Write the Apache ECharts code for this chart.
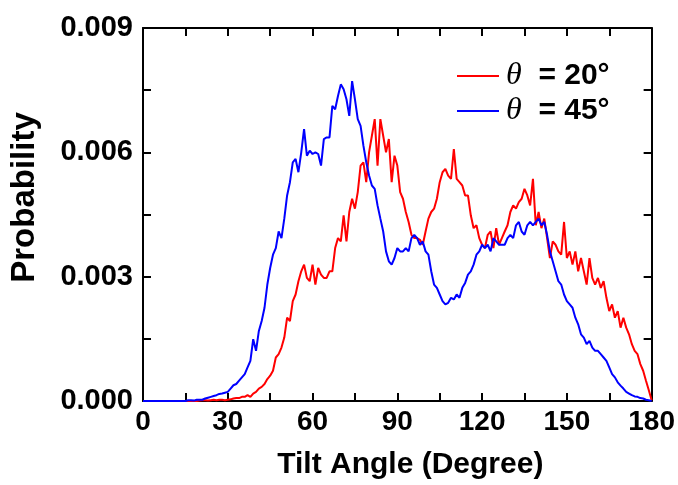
<!DOCTYPE html>
<html>
<head>
<meta charset="utf-8">
<title>Tilt angle distribution</title>
<script src="https://cdn.jsdelivr.net/npm/echarts@6/dist/echarts.min.js"></script>
<style>
  html, body { margin: 0; padding: 0; background: #fff; }
  #chart { width: 678px; height: 485px; }
</style>
</head>
<body>
<div id="chart"></div>
<script>
// tilt angle sampled every degree, 0..180
const angleStep = 1;
const xTicks = [0, 30, 60, 90, 120, 150, 180];
const yTicks = [0.000, 0.003, 0.006, 0.009];

// theta = 20 deg (red)
const prob20 = [
  0, 0, 0, 0, 0, 0, 0, 0, 0, 0,
  0, 0, 0, 0, 0, 0, 0, 0, 0, 0,
  0.00001, 0.00002, 0.00002, 0.00001, 0.00002, 0.00003, 0.00002, 0.00003, 0.00003, 0.00002,
  0.00003, 0.00004, 0.00006, 0.00007, 0.00007, 0.0001, 0.0001, 0.00014, 0.0001, 0.00018,
  0.00022, 0.0003, 0.00034, 0.00041, 0.00053, 0.00061, 0.00073, 0.00105, 0.00113, 0.00129,
  0.00153, 0.00201, 0.00193, 0.00241, 0.00257, 0.00289, 0.00313, 0.00329, 0.00297, 0.00289,
  0.00329, 0.00281, 0.00321, 0.00305, 0.00297, 0.00297, 0.00313, 0.00313, 0.00369, 0.00393,
  0.00385, 0.00448, 0.00385, 0.00456, 0.00488, 0.00464, 0.00504, 0.00568, 0.00576, 0.00528,
  0.006, 0.0064, 0.0068, 0.00568, 0.0068, 0.0064, 0.006, 0.00632, 0.00528, 0.00592,
  0.00568, 0.00504, 0.00488, 0.00456, 0.00432, 0.00401, 0.00393, 0.00393, 0.00389, 0.00377,
  0.00409, 0.0044, 0.00456, 0.00464, 0.00488, 0.00528, 0.00552, 0.0056, 0.00544, 0.00536,
  0.00608, 0.00536, 0.00528, 0.0052, 0.00496, 0.00496, 0.00448, 0.00417, 0.00424, 0.00393,
  0.00377, 0.00369, 0.00401, 0.00409, 0.00369, 0.00417, 0.00377, 0.00393, 0.00409, 0.00424,
  0.00456, 0.00472, 0.00464, 0.0048, 0.00488, 0.00512, 0.00496, 0.00472, 0.00536, 0.00424,
  0.00456, 0.00417, 0.0044, 0.00393, 0.00345, 0.00385, 0.00377, 0.00361, 0.00353, 0.00432,
  0.00345, 0.00361, 0.00329, 0.00361, 0.00313, 0.00345, 0.00313, 0.00281, 0.00345, 0.00297,
  0.00281, 0.00297, 0.00273, 0.00289, 0.00249, 0.00217, 0.00233, 0.00201, 0.00217, 0.00177,
  0.00201, 0.00177, 0.00161, 0.00137, 0.00121, 0.00113, 0.00089, 0.00073, 0.00049, 0.00026,
  0.00002
];

// theta = 45 deg (blue)
const prob45 = [
  0, 0, 0, 0, 0, 0, 0, 0, 0, 0,
  0, 0, 0, 0, 0, 0, 0.00002, 0.00002, 0.00001, 0.00003,
  0.00003, 0.00003, 0.00006, 0.00008, 0.0001, 0.00012, 0.00014, 0.00017, 0.00018, 0.0002,
  0.00022, 0.0003, 0.00038, 0.00041, 0.00049, 0.00057, 0.00065, 0.00081, 0.00097, 0.00149,
  0.00121, 0.00169, 0.00193, 0.00225, 0.00281, 0.00321, 0.00353, 0.00369, 0.00409, 0.00393,
  0.0044, 0.00496, 0.00528, 0.00576, 0.00584, 0.00552, 0.006, 0.00656, 0.00592, 0.00604,
  0.00596, 0.006, 0.00596, 0.00568, 0.00632, 0.00636, 0.00636, 0.00712, 0.00704, 0.00736,
  0.00764, 0.00752, 0.00728, 0.00688, 0.00772, 0.00728, 0.0068, 0.00664, 0.00616, 0.00576,
  0.00544, 0.0052, 0.00512, 0.00472, 0.0044, 0.00409, 0.00361, 0.00337, 0.00329, 0.00345,
  0.00369, 0.00361, 0.00361, 0.00369, 0.00361, 0.00393, 0.00401, 0.00393, 0.00377, 0.00385,
  0.00361, 0.00353, 0.00313, 0.00281, 0.00273, 0.00257, 0.00241, 0.00233, 0.00237, 0.00249,
  0.00245, 0.00257, 0.00249, 0.00273, 0.00285, 0.00305, 0.00313, 0.00329, 0.00353, 0.00361,
  0.00377, 0.00369, 0.00377, 0.00361, 0.00393, 0.00385, 0.00377, 0.00377, 0.00377, 0.00393,
  0.00401, 0.00393, 0.00424, 0.00432, 0.00409, 0.00401, 0.00424, 0.00432, 0.00424, 0.00432,
  0.0044, 0.00424, 0.00432, 0.00401, 0.00361, 0.00337, 0.00313, 0.00289, 0.00281, 0.00257,
  0.00241, 0.00233, 0.00225, 0.00201, 0.00185, 0.00161, 0.00153, 0.00137, 0.00145, 0.00129,
  0.00121, 0.00121, 0.00113, 0.00105, 0.00097, 0.00081, 0.00065, 0.00057, 0.00045, 0.00037,
  0.0003, 0.00022, 0.00018, 0.00014, 0.00011, 0.0001, 0.00007, 0.00006, 0.00003, 0.00002,
  0
];

const seriesNames = ['θ = 20°', 'θ = 45°'];
const seriesColors = ['#ff0000', '#0000ff'];

const toPairs = arr => arr.map((v, i) => [i * angleStep, v]);

const font = "'Liberation Sans', Arial, sans-serif";
const tickStyle = { show: true, inside: true, length: 8, lineStyle: { color: '#000', width: 2 } };
const minorStyle = { show: true, splitNumber: 2, length: 8, lineStyle: { color: '#000', width: 2 } };
const lineStyle = { show: true, onZero: false, lineStyle: { color: '#000', width: 2 } };

const chart = echarts.init(document.getElementById('chart'));
chart.setOption({
  animation: false,
  backgroundColor: '#fff',
  grid: { left: 143, right: 26, top: 28, bottom: 81, containLabel: false },
  legend: {
    data: seriesNames,
    orient: 'vertical',
    left: 452,
    top: 55,
    itemWidth: 42,
    itemHeight: 2,
    itemGap: 3,
    icon: 'rect',
    formatter: n => {
      const p = n.split(' = ');
      return '{th|' + p[0] + '}{tx|  = ' + p[1] + '}';
    },
    textStyle: {
      padding: [0, 0, 0, 2],
      rich: {
        th: { fontFamily: "'Liberation Serif', 'DejaVu Serif', serif", fontStyle: 'italic', fontSize: 32, color: '#000' },
        tx: { fontFamily: font, fontWeight: 'bold', fontSize: 30, color: '#000' }
      }
    }
  },
  xAxis: [{
    type: 'value', min: xTicks[0], max: xTicks[xTicks.length - 1], interval: 30,
    position: 'bottom',
    axisLine: lineStyle, axisTick: tickStyle, minorTick: minorStyle,
    splitLine: { show: false },
    axisLabel: { color: '#000', fontFamily: font, fontWeight: 'bold', fontSize: 28, margin: 7 },
    name: 'Tilt Angle (Degree)', nameLocation: 'middle', nameGap: 49,
    nameTextStyle: { color: '#000', fontFamily: font, fontWeight: 'bold', fontSize: 30, padding: [0, 0, 0, 26] }
  }, {
    type: 'value', min: xTicks[0], max: xTicks[xTicks.length - 1], interval: 30,
    position: 'top',
    axisLine: lineStyle, axisTick: tickStyle, minorTick: minorStyle,
    splitLine: { show: false }, axisLabel: { show: false }
  }],
  yAxis: [{
    type: 'value', min: yTicks[0], max: yTicks[yTicks.length - 1], interval: 0.003,
    position: 'left',
    axisLine: lineStyle, axisTick: tickStyle, minorTick: minorStyle,
    splitLine: { show: false },
    axisLabel: { color: '#000', fontFamily: font, fontWeight: 'bold', fontSize: 29, margin: 10,
      formatter: v => v.toFixed(3) },
    name: 'Probability', nameLocation: 'middle', nameGap: 102,
    nameTextStyle: { color: '#000', fontFamily: font, fontWeight: 'bold', fontSize: 33, padding: [0, 0, 0, 34] }
  }, {
    type: 'value', min: yTicks[0], max: yTicks[yTicks.length - 1], interval: 0.003,
    position: 'right',
    axisLine: lineStyle, axisTick: tickStyle, minorTick: minorStyle,
    splitLine: { show: false }, axisLabel: { show: false }
  }],
  series: [prob20, prob45].map((arr, k) => ({
    name: seriesNames[k],
    type: 'line',
    data: toPairs(arr),
    showSymbol: false,
    symbol: 'none',
    color: seriesColors[k],
    lineStyle: { color: seriesColors[k], width: 2 }
  }))
});
</script>
</body>
</html>
